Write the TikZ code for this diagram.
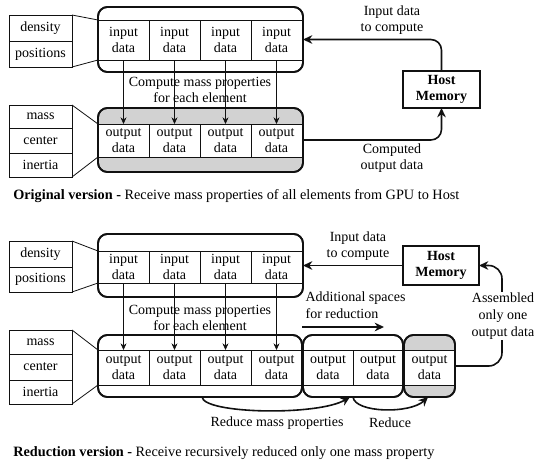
\documentclass[tikz,border=0pt]{standalone}
\usepackage{fontspec}
\setmainfont{Liberation Serif}
\usetikzlibrary{
  positioning,
  arrows.meta,
  calc,
}
\definecolor{border}{HTML}{111111}
\definecolor{bandGray}{HTML}{D2D2D2}
\tikzset{
  boxsize/.style 2 args={minimum width=#1*0.75pt, minimum height=#2*0.75pt},
  txt/.style={font=\fontsize{10.5}{12.5}\selectfont, align=center, inner sep=1pt},
  legendbox/.style={
    rectangle, draw=border, line width=0.6pt, txt, inner sep=0pt, outer sep=0pt,
  },
  container/.style={
    rectangle, rounded corners=7pt, draw=border, line width=1.3pt,
    inner sep=0pt, outer sep=0pt,
  },
  graybox/.style={container, fill=bandGray},
  outline/.style={draw=border, line width=1.3pt, rounded corners=7pt},
  cellbox/.style={
    rectangle, draw=border, line width=0.5pt, fill=white,
    txt, inner sep=0pt, outer sep=0pt,
  },
  hostbox/.style={
    rectangle, draw=border, line width=0.8pt, fill=white,
    txt, inner sep=0pt, outer sep=0pt, font=\fontsize{10.5}{12.5}\selectfont\bfseries,
  },
  arrow/.style={-{Stealth[length=7pt,width=6.5pt]}, border, line width=1.2pt},
  thinarrow/.style={-{Stealth[length=5pt,width=4.5pt]}, border, line width=0.5pt},
  caption/.style={font=\fontsize{10.7}{12.5}\selectfont, inner sep=0pt, anchor=west},
}

\begin{document}
\begin{tikzpicture}[x=0.75pt, y=-0.75pt]

  \useasboundingbox (0,0) rectangle (536,461);

  % Original version
  \node[legendbox, boxsize={63}{26}] (dens) at (40.5,28) {density};
  \node[legendbox, boxsize={63}{26}] (posn) at (40.5,54) {positions};
  \node[container, boxsize={205}{65}] (inbox) at (200.5,39.5) {};
  \foreach \i/\x in {1/123.5, 2/174.5, 3/225.5, 4/276.5}
    \node[cellbox, boxsize={51}{40}] (in\i) at (\x,40) {input\\data};

  \node[legendbox, boxsize={63}{23}] (mass) at (40.5,116.5) {mass};
  \node[legendbox, boxsize={63}{25}] (cent) at (40.5,140.5) {center};
  \node[legendbox, boxsize={63}{24}] (inert) at (40.5,165) {inertia};
  \node[graybox, boxsize={205}{64}] (outbox) at (200.5,140) {};
  \foreach \i/\x in {1/123.5, 2/174.5, 3/225.5, 4/276.5}
    \node[cellbox, boxsize={51}{33}] (out\i) at (\x,140.5) {output\\data};

  \foreach \b in {inbox, outbox}
    \draw[outline] (\b.north west) rectangle (\b.south east);

  \draw[border, line width=0.6pt] (dens.north east) -- (in1.north west);
  \draw[border, line width=0.6pt] (posn.south east) -- (in1.south west);
  \draw[border, line width=0.6pt] (mass.north east) -- (out1.north west);
  \draw[border, line width=0.6pt] (inert.south east) -- (out1.south west);

  \foreach \i in {1,...,4}
    \draw[thinarrow] (in\i.south) -- (out\i.north);
  \node[txt] (calc) at (200,90) {Compute mass properties\\for each element};

  \node[hostbox, boxsize={77}{37}] (host) at (441.5,89.5) {Host\\Memory};
  \draw[arrow, rounded corners=8pt] (host.north) |- (inbox.east);
  \draw[arrow, rounded corners=8pt] (outbox.east) -| (host.south);
  \node[txt] (sendlbl) at (392,20) {Input data\\to compute};
  \node[txt] (backlbl) at (392,158) {Computed\\output data};

  \node[caption] (capA) at (13,196)
    {\textbf{Original version -} Receive mass properties of all elements from GPU to Host};

  % Reduction version
  \node[legendbox, boxsize={63}{26}] (densB) at (40.5,254) {density};
  \node[legendbox, boxsize={63}{25}] (posnB) at (40.5,279.5) {positions};
  \node[container, boxsize={205}{63}] (inboxB) at (200.5,265.5) {};
  \foreach \i/\x in {1/123.5, 2/174.5, 3/225.5, 4/276.5}
    \node[cellbox, boxsize={51}{32}] (in\i B) at (\x,267) {input\\data};

  \node[legendbox, boxsize={63}{24}] (massB) at (40.5,342) {mass};
  \node[legendbox, boxsize={63}{26}] (centB) at (40.5,367) {center};
  \node[legendbox, boxsize={63}{24}] (inertB) at (40.5,392) {inertia};
  \node[container, boxsize={204}{62}] (outboxB) at (200,366) {};
  \foreach \i/\x in {1/123.5, 2/174.5, 3/225.5, 4/276.5}
    \node[cellbox, boxsize={51}{35}] (out\i B) at (\x,367.5) {output\\data};
  \node[container, boxsize={100}{62}] (spareB) at (353,366) {};
  \foreach \i/\x in {5/328, 6/378}
    \node[cellbox, boxsize={50}{35}] (out\i B) at (\x,367.5) {output\\data};
  \node[graybox, boxsize={51}{62}] (finalB) at (429.5,366) {};
  \node[cellbox, boxsize={51}{35}] (out7B) at (429.5,367.5) {output\\data};

  \foreach \b in {inboxB, outboxB, spareB, finalB}
    \draw[outline] (\b.north west) rectangle (\b.south east);

  \draw[border, line width=0.6pt] (densB.north east) -- (in1B.north west);
  \draw[border, line width=0.6pt] (posnB.south east) -- (in1B.south west);
  \draw[border, line width=0.6pt] (massB.north east) -- (out1B.north west);
  \draw[border, line width=0.6pt] (inertB.south east) -- (out1B.south west);

  \foreach \i in {1,...,4}
    \draw[thinarrow] (in\i B.south) -- (out\i B.north);
  \node[txt] (calcB) at (200,318) {Compute mass properties\\for each element};

  \node[hostbox, boxsize={76}{39}] (hostB) at (441,265.5) {Host\\Memory};
  \draw[arrow] (hostB.west) -- (inboxB.east);
  \node[txt] (sendlblB) at (358,246) {Input data\\to compute};

  \node[txt, align=left, anchor=west] (extra) at (304,305) {Additional spaces\\for reduction};
  \coordinate (extraA) at (302,327);
  \coordinate (extraB) at (384,327);
  \draw[arrow] (extraA) -- (extraB);

  \coordinate (redA) at (202,397);
  \coordinate (redB) at (350,397);
  \coordinate (redC) at (353,397);
  \coordinate (redD) at (428,397);
  \draw[arrow] (redA) .. controls (204,414) and (318,416) .. (redB);
  \draw[arrow] (redC) .. controls (355,413) and (410,414) .. (redD);
  \node[txt] (redlbl) at (277,423) {Reduce mass properties};
  \node[txt] (redlbl2) at (390,423) {Reduce};

  \draw[arrow, rounded corners=10pt] (finalB.east) -- ++(47,0) |- (hostB.east);
  \node[txt, fill=white] (asmlbl) at (503,316) {Assembled\\only one\\output data};

  \node[caption] (capB) at (13,453)
    {\textbf{Reduction version -} Receive recursively reduced only one mass property};

\end{tikzpicture}
\end{document}
